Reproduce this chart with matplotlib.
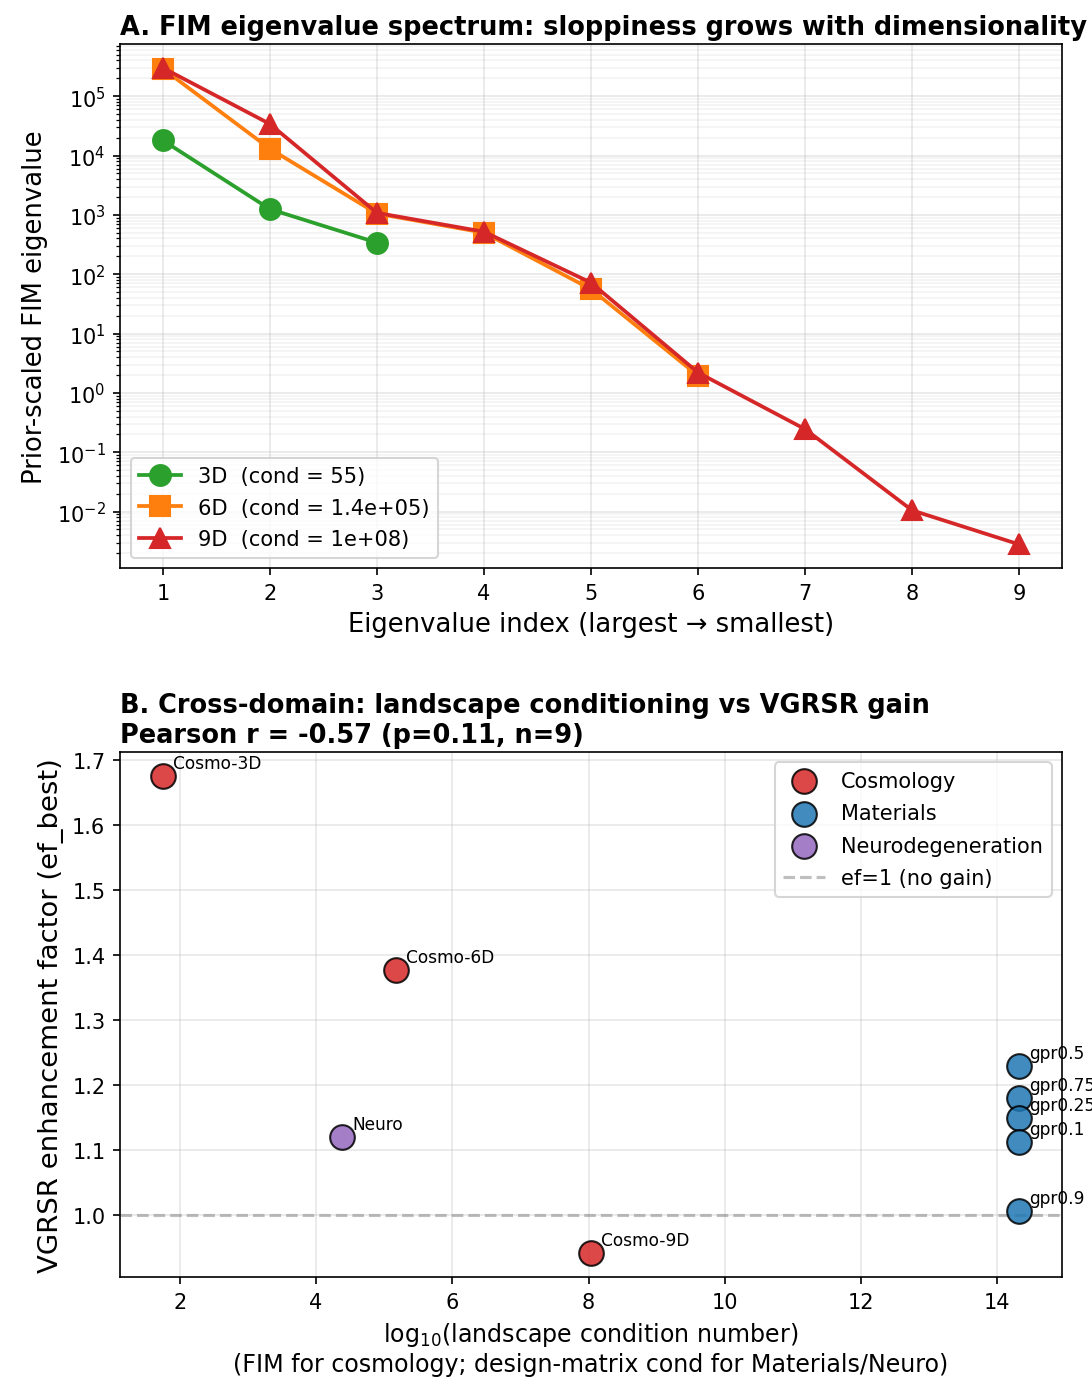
import numpy as np
import matplotlib
matplotlib.use("Agg")
import matplotlib.pyplot as plt

# ---- Panel A data ----
idx_3d = [1, 2, 3]
eig_3d = [1.8e4, 1.25e3, 3.4e2]
idx_6d = [1, 2, 3, 4, 5, 6]
eig_6d = [2.9e5, 1.3e4, 1.05e3, 5.0e2, 5.6e1, 1.95]
idx_9d = [1, 2, 3, 4, 5, 6, 7, 8, 9]
eig_9d = [3.0e5, 3.4e4, 1.08e3, 5.2e2, 7.2e1, 2.2, 0.245, 0.0105, 0.0028]
labels_a = ["3D  (cond = 55)", "6D  (cond = 1.4e+05)", "9D  (cond = 1e+08)"]

# ---- Panel B data ----
names = ["Cosmo-3D", "Cosmo-6D", "Cosmo-9D", "Neuro",
         "gpr0.5", "gpr0.75", "gpr0.25", "gpr0.1", "gpr0.9"]
domains = ["Cosmology", "Cosmology", "Cosmology", "Neurodegeneration",
           "Materials", "Materials", "Materials", "Materials", "Materials"]
log_cond = [1.75, 5.17, 8.03, 4.38, 14.32, 14.32, 14.32, 14.32, 14.32]
ef_best = [1.675, 1.377, 0.942, 1.120, 1.229, 1.180, 1.149, 1.112, 1.006]
domain_order = ["Cosmology", "Materials", "Neurodegeneration"]
domain_colors = {"Cosmology": "#d62728", "Materials": "#1f77b4",
                 "Neurodegeneration": "#9467bd"}

fig = plt.figure(figsize=(7.28, 9.2333), dpi=150)
axA = fig.add_axes([0.1099, 0.589, 0.8626, 0.3785])
axB = fig.add_axes([0.1099, 0.0773, 0.8626, 0.379])

# Panel A
axA.semilogy(idx_3d, eig_3d, "o-", color="#2ca02c", lw=1.8, ms=10, label=labels_a[0])
axA.semilogy(idx_6d, eig_6d, "s-", color="#ff7f0e", lw=1.8, ms=10, label=labels_a[1])
axA.semilogy(idx_9d, eig_9d, "^-", color="#d62728", lw=1.8, ms=10, label=labels_a[2])
axA.set_xticks(range(1, 10))
axA.grid(True, which="major", alpha=0.3)
axA.grid(True, which="minor", axis="y", alpha=0.15)
axA.set_xlabel("Eigenvalue index (largest \u2192 smallest)", fontsize=12.4)
axA.set_ylabel("Prior-scaled FIM eigenvalue", fontsize=12.4)
axA.set_title("A. FIM eigenvalue spectrum: sloppiness grows with dimensionality",
              loc="left", fontsize=12.3, fontweight="bold", pad=5)
axA.legend(loc="lower left", fontsize=10.1, labelspacing=0.55)
axA.tick_params(labelsize=10)

# Panel B
for d in domain_order:
    xs = [x for x, dd in zip(log_cond, domains) if dd == d]
    ys = [y for y, dd in zip(ef_best, domains) if dd == d]
    axB.scatter(xs, ys, s=140, color=domain_colors[d], edgecolor="black",
                linewidth=1.0, alpha=0.85, label=d, zorder=3)
for n, x, y in zip(names, log_cond, ef_best):
    axB.annotate(n, (x, y), xytext=(5, 4), textcoords="offset points", fontsize=8.2)
axB.axhline(1.0, color="gray", ls="--", alpha=0.5, lw=1.5, label="ef=1 (no gain)")
axB.grid(True, alpha=0.3)
axB.set_xlabel("log$_{10}$(landscape condition number)\n"
               "(FIM for cosmology; design-matrix cond for Materials/Neuro)", fontsize=11.4)
axB.set_ylabel("VGRSR enhancement factor (ef_best)", fontsize=13.2)
axB.set_title("B. Cross-domain: landscape conditioning vs VGRSR gain\n"
              "Pearson r = -0.57 (p=0.11, n=9)", loc="left", fontsize=12.3,
              fontweight="bold", pad=5)
axB.legend(loc="upper right", fontsize=10, labelspacing=0.6)
axB.tick_params(labelsize=10)

fig.savefig("out.png", dpi=150)
